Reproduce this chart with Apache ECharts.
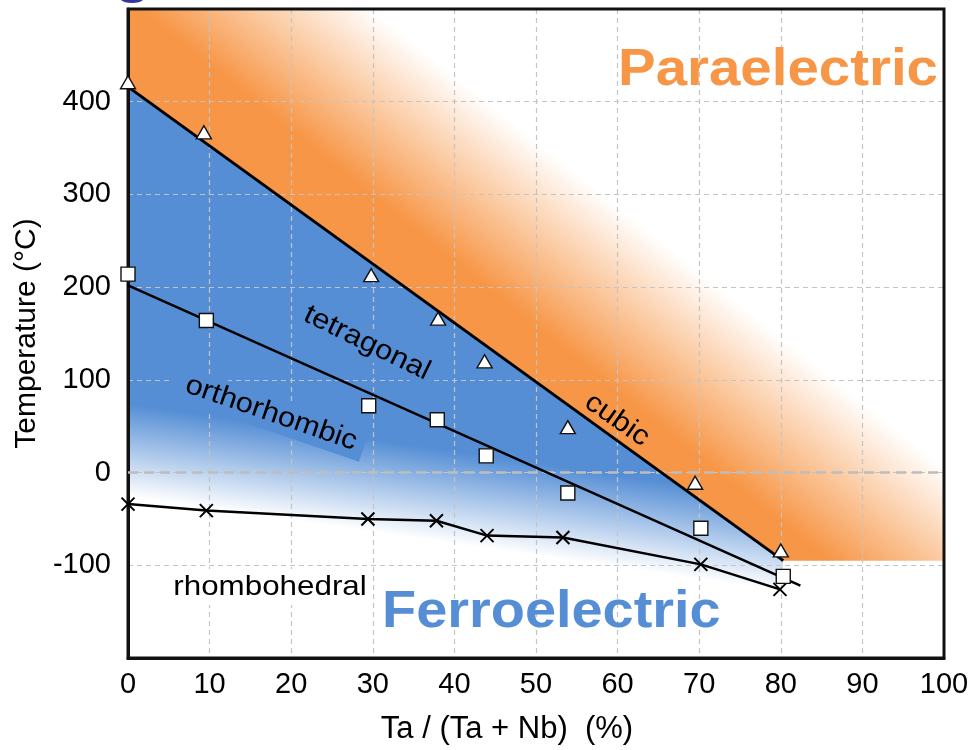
<!DOCTYPE html>
<html>
<head>
<meta charset="utf-8">
<script src="https://cdn.jsdelivr.net/npm/echarts@6/dist/echarts.min.js"></script>
<style>html,body{margin:0;padding:0;background:#fff}#c{width:974px;height:750px}</style>
</head>
<body>
<div id="c"></div>
<script>
// ---- data ----
const xTickMin = 0, xTickMax = 100, xTickStep = 10;
const yTickMin = -200, yTickMax = 500, yTickStep = 100;

// cubic <-> tetragonal transition (triangles)
const cubicX = [0, 9.3, 29.8, 38.0, 43.7, 53.9, 69.5, 80.0];
const cubicT = [421, 367, 213, 166, 120, 49, -11, -84];
// tetragonal <-> orthorhombic transition (squares)
const tetraX = [0, 9.6, 29.5, 37.9, 43.9, 53.9, 70.2, 80.3];
const tetraT = [214, 164, 72, 57, 18, -22, -60, -112];
// orthorhombic <-> rhombohedral transition (crosses)
const rhomboX = [0, 9.6, 29.4, 37.8, 44.0, 53.3, 70.2, 79.9];
const rhomboT = [-34, -41, -50, -52, -68, -70, -99, -126];

// fitted boundary lines
const cubicLineX = [0, 80.3];
const cubicLineT = [416, -95];
const orthoLineX = [0, 82.4];
const orthoLineT = [202, -122];

// phase regions (polygon outlines)
const paraRegionX = [0, 100, 100, 80.3, 0];
const paraRegionT = [500, 500, -95, -95, 416];
const ferroRegionX = [0, 80.3, 80, 0];
const ferroRegionT = [416, -95, -128, -26];

const zip = (a, b) => a.map((v, i) => [v, b[i]]);

const ORANGE = '#F79646';
const BLUE = '#558ED5';
const FONT = '"Liberation Sans", Arial, Helvetica, sans-serif';

const chart = echarts.init(document.getElementById('c'), null, {renderer: 'canvas'});

function paraRender(params, api) {
  const pts = paraRegionX.map((x, i) => api.coord([x, paraRegionT[i]]));
  const p0 = api.coord([cubicLineX[0], cubicLineT[0]]);
  // fade bands run with pixel slope 0.8 (down-right); normal points up-right
  const bx = 1, by = 0.8, bl = Math.hypot(bx, by);
  const nx = by / bl, ny = -bx / bl;
  const s0 = 68, s1 = 213;
  return {
    type: 'polygon',
    shape: {points: pts},
    style: {
      fill: {
        type: 'linear', global: true,
        x: p0[0] + nx * s0, y: p0[1] + ny * s0,
        x2: p0[0] + nx * s1, y2: p0[1] + ny * s1,
        colorStops: [
          {offset: 0, color: ORANGE},
          {offset: 1, color: '#FFFFFF'}
        ]
      }
    }
  };
}

function ferroRender(params, api) {
  const pts = ferroRegionX.map((x, i) => api.coord([x, ferroRegionT[i]]));
  const a = pts[3], b = pts[2];
  let dx = b[0] - a[0], dy = b[1] - a[1];
  const L = Math.hypot(dx, dy); dx /= L; dy /= L;
  const nx = dy, ny = -dx; // normal pointing up
  const D = 92;
  return {
    type: 'polygon',
    shape: {points: pts},
    style: {
      fill: {
        type: 'linear', global: true,
        x: a[0], y: a[1], x2: a[0] + nx * D, y2: a[1] + ny * D,
        colorStops: [
          {offset: 0, color: '#FFFFFF'},
          {offset: 1, color: BLUE}
        ]
      }
    }
  };
}

const crossPath = 'path://M0,0L10,10M10,0L0,10';
const deg = Math.PI / 180;

function label(text, x, y, opts) {
  return Object.assign({
    type: 'text', x: x, y: y, z: 20,
    style: Object.assign({
      text: text, fill: '#000',
      font: '28px ' + FONT,
      align: 'center', verticalAlign: 'middle',
      textAlign: 'center', textVerticalAlign: 'middle'
    }, opts.style || {})
  }, opts.el || {});
}

const gridLine = {show: true, showMinLine: false, showMaxLine: false,
                  lineStyle: {color: '#C4C4C4', width: 1.2, type: [5, 4]}};

const option = {
  animation: false,
  backgroundColor: '#fff',
  grid: {
    left: 128, right: 30, top: 9, bottom: 92,
    show: true, borderColor: '#111', borderWidth: 3, z: 4,
    backgroundColor: 'transparent'
  },
  xAxis: {
    type: 'value', min: xTickMin, max: xTickMax, interval: xTickStep, z: 3,
    name: 'Ta / (Ta + Nb)  (%)', nameLocation: 'middle', nameGap: 56,
    nameTextStyle: {fontSize: 31, color: '#000', fontFamily: FONT, padding: [0, 58, 0, 0]},
    axisLine: {show: true, onZero: false, lineStyle: {color: '#111', width: 3}},
    axisTick: {show: false},
    axisLabel: {fontSize: 29, color: '#000', fontFamily: FONT, margin: 12},
    splitLine: gridLine
  },
  yAxis: {
    type: 'value', min: yTickMin, max: yTickMax, interval: yTickStep, z: 3,
    name: 'Temperature (°C)', nameLocation: 'middle', nameGap: 84, nameRotate: 90,
    nameTextStyle: {fontSize: 30, color: '#000', fontFamily: FONT},
    axisLine: {show: true, onZero: false, lineStyle: {color: '#111', width: 3}},
    axisTick: {show: false},
    axisLabel: {fontSize: 29, color: '#000', fontFamily: FONT, margin: 17,
                showMinLabel: false, showMaxLabel: false},
    splitLine: gridLine
  },
  series: [
    {type: 'custom', name: 'Paraelectric', z: 1, silent: true, data: [[0]], renderItem: paraRender},
    {type: 'custom', name: 'Ferroelectric', z: 1, silent: true, data: [[0]], renderItem: ferroRender},
    {
      type: 'line', name: 'cubic line', z: 5, data: zip(cubicLineX, cubicLineT),
      symbol: 'none', lineStyle: {color: '#000', width: 3}
    },
    {
      type: 'line', name: 'ortho line', z: 5, data: zip(orthoLineX, orthoLineT),
      symbol: 'none', lineStyle: {color: '#000', width: 2.5}
    },
    {
      type: 'line', name: 'rhombo', z: 6, data: zip(rhomboX, rhomboT),
      symbol: crossPath, symbolSize: 13, showAllSymbol: true,
      lineStyle: {color: '#000', width: 2.5},
      itemStyle: {color: '#000', borderColor: '#000', borderWidth: 2},
      markLine: {
        silent: true, symbol: 'none', label: {show: false}, z: 4,
        lineStyle: {color: '#BDBDBD', width: 2.6, type: [10, 6]},
        data: [{yAxis: 0}]
      }
    },
    {
      type: 'scatter', name: 'cubic Tc', z: 7, data: zip(cubicX, cubicT),
      symbol: 'triangle', symbolSize: [15, 13],
      itemStyle: {color: '#fff', borderColor: '#111', borderWidth: 1.4, opacity: 1}
    },
    {
      type: 'scatter', name: 'tetra', z: 7, data: zip(tetraX, tetraT),
      symbol: 'rect', symbolSize: 14,
      itemStyle: {color: '#fff', borderColor: '#111', borderWidth: 1.4, opacity: 1}
    }
  ],
  graphic: [
    {type: 'ellipse', shape: {cx: 132, cy: -2, rx: 12, ry: 5}, style: {fill: '#34349E'}, z: 20},
    label('Paraelectric', 618, 71, {
      style: {font: 'bold 52px ' + FONT, fill: ORANGE, align: 'left', textAlign: 'left'},
      el: {scaleX: 1.085}
    }),
    label('Ferroelectric', 382, 613, {
      style: {font: 'bold 52px ' + FONT, fill: BLUE, align: 'left', textAlign: 'left'},
      el: {scaleX: 1.075}
    }),
    label('tetragonal', 367, 343, {
      style: {backgroundColor: BLUE, padding: [0, 4, 2, 4]},
      el: {rotation: -26 * deg, scaleX: 1.1}
    }),
    label('orthorhombic', 267, 412, {
      style: {backgroundColor: BLUE, padding: [0, 8, 6, 16]},
      el: {rotation: -19 * deg, scaleX: 1.1}
    }),
    label('cubic', 617, 420, {
      el: {rotation: -35 * deg, scaleX: 1.1}
    }),
    label('rhombohedral', 270, 587, {
      style: {backgroundColor: '#fff', padding: [2, 2, 6, 2]},
      el: {scaleX: 1.12}
    })
  ]
};

chart.setOption(option);
</script>
</body>
</html>
